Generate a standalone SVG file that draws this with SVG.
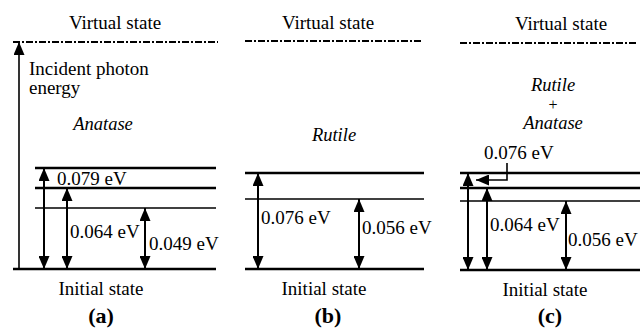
<svg xmlns="http://www.w3.org/2000/svg" width="641" height="331" viewBox="0 0 641 331">
<style>
text{font-family:"Liberation Serif","Times New Roman",serif;font-size:19px;fill:#000}
.c{text-anchor:middle}
.it{font-style:italic;font-size:18.5px}
.b{font-weight:bold;font-size:22px}
.thick{stroke:#000;stroke-width:2.6;fill:none}
.thin{stroke:#000;stroke-width:1.3;fill:none}
.dd{stroke:#000;stroke-width:1.9;stroke-dasharray:7 2 2 2;fill:none}
.arr{stroke:#000;stroke-width:2;fill:none;marker-start:url(#ah);marker-end:url(#ah)}
.one{stroke:#000;stroke-width:1.6;fill:none;marker-end:url(#ah)}
</style>
<defs>
<marker id="ah" viewBox="0 0 13 11" refX="13" refY="5.5" markerWidth="13" markerHeight="11" markerUnits="userSpaceOnUse" orient="auto-start-reverse">
<path d="M0,0 L13,5.5 L0,11 z" fill="#000"/>
</marker>
</defs>
<g id="panel-a">
<text class="c" x="115" y="29">Virtual state</text>
<line class="dd" x1="13" y1="42" x2="218" y2="42"/>
<text x="29" y="75">Incident photon</text>
<text x="29" y="94">energy</text>
<text class="c it" x="103" y="130">Anatase</text>
<line class="thick" x1="35" y1="168" x2="216" y2="168"/>
<line class="thick" x1="35" y1="188" x2="216" y2="188"/>
<line class="thin" x1="35" y1="208" x2="216" y2="208"/>
<line class="thick" x1="13" y1="269" x2="216" y2="269"/>
<text x="57" y="185">0.079 eV</text>
<text x="70" y="238">0.064 eV</text>
<text x="149" y="250">0.049 eV</text>
<text class="c" x="101" y="295">Initial state</text>
<text class="c b" x="101" y="323">(a)</text>
</g>
<g id="panel-b">
<text class="c" x="328" y="29">Virtual state</text>
<line class="dd" x1="245" y1="41" x2="422" y2="41"/>
<text class="c it" x="334" y="141">Rutile</text>
<line class="thick" x1="245" y1="173" x2="424" y2="173"/>
<line class="thin" x1="245" y1="199" x2="424" y2="199"/>
<line class="thick" x1="245" y1="269" x2="424" y2="269"/>
<text x="261" y="224">0.076 eV</text>
<text x="362" y="234">0.056 eV</text>
<text class="c" x="324" y="295">Initial state</text>
<text class="c b" x="328" y="323">(b)</text>
</g>
<g id="panel-c">
<text class="c" x="561" y="30">Virtual state</text>
<line class="dd" x1="460" y1="43" x2="637" y2="43"/>
<text class="c it" x="553" y="91">Rutile</text>
<text class="c" x="553" y="110" style="font-size:16px">+</text>
<text class="c it" x="553" y="129">Anatase</text>
<text x="484" y="159">0.076 eV</text>
<line class="thick" x1="460" y1="173" x2="640" y2="173"/>
<line class="thick" x1="460" y1="188" x2="640" y2="188"/>
<line class="thin" x1="460" y1="201" x2="640" y2="201"/>
<line class="thick" x1="460" y1="270" x2="640" y2="270"/>
<text x="490" y="231">0.064 eV</text>
<text x="568" y="246">0.056 eV</text>
<text class="c" x="545" y="296">Initial state</text>
<text class="c b" x="550" y="323">(c)</text>
</g>
<g id="connectors">
<line class="one" x1="19" y1="269" x2="19" y2="42"/>
<line class="arr" x1="44" y1="269" x2="44" y2="168"/>
<line class="arr" x1="67" y1="269" x2="67" y2="188"/>
<line class="arr" x1="145" y1="269" x2="145" y2="208"/>
<line class="arr" x1="258" y1="269" x2="258" y2="173"/>
<line class="arr" x1="359" y1="269" x2="359" y2="199"/>
<line class="arr" x1="468" y1="270" x2="468" y2="173"/>
<line class="arr" x1="487" y1="270" x2="487" y2="188"/>
<line class="arr" x1="566" y1="270" x2="566" y2="201"/>
<path class="one" d="M507,163 V180 H476"/>
</g>
</svg>
